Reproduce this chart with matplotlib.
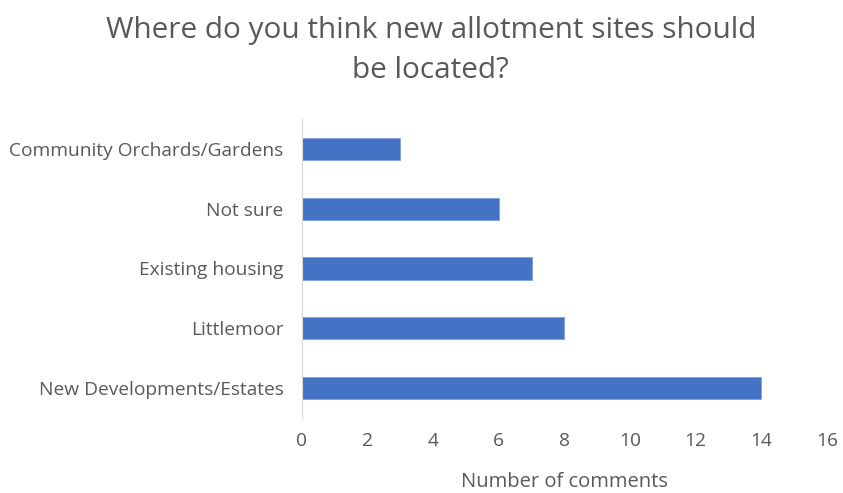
import matplotlib
matplotlib.use("Agg")
import matplotlib.pyplot as plt

# Datos del grafico
categorias = ["New Developments/Estates", "Littlemoor", "Existing housing",
              "Not sure", "Community Orchards/Gardens"]
comentarios = [14, 8, 7, 6, 3]
ticks_x = [0, 2, 4, 6, 8, 10, 12, 14, 16]

gris = "#595959"
plt.rcParams["font.family"] = ["Open Sans", "DejaVu Sans"]

fig = plt.figure(figsize=(8.43, 4.93), dpi=100)
ax = fig.add_axes([0.358, 0.152, 0.623, 0.607])

ax.barh(range(len(categorias)), comentarios, height=0.37, color="#4472C4",
        edgecolor="#7f9fd8", linewidth=0.6)

ax.set_yticks(range(len(categorias)))
ax.set_yticklabels(categorias)
ax.set_xticks(ticks_x)
ax.set_xlim(0, 16)
ax.set_ylim(-0.5, len(categorias) - 0.5)
ax.tick_params(axis="both", length=0, colors=gris, labelsize=13.8)
ax.tick_params(axis="y", pad=13)
ax.tick_params(axis="x", pad=10)

for lado in ["top", "right", "bottom"]:
    ax.spines[lado].set_visible(False)
ax.spines["left"].set_color("#d9d9d9")

ax.set_xlabel("Number of comments", color=gris, fontsize=14.5, labelpad=16)
fig.text(0.511, 0.897, "Where do you think new allotment sites should\nbe located?",
         ha="center", va="center", color=gris, fontsize=21.4, linespacing=1.5)

fig.savefig("out.png", dpi=100)
